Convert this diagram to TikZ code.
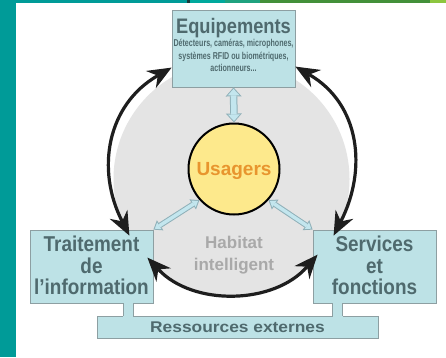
\documentclass[tikz,border=0pt]{standalone}
\usepackage{fontspec}
\setmainfont{Liberation Sans}
\newfontfamily\fTitle{Liberation Sans}[FakeStretch=0.87]
\newfontfamily\fSmall{Liberation Sans}[FakeStretch=0.71]
\newfontfamily\fBox{Liberation Sans}[FakeStretch=0.88]
\newfontfamily\fRes{Liberation Sans}[FakeStretch=1.12]
\usetikzlibrary{arrows.meta,calc}
\definecolor{tealbar}{HTML}{009B98}
\definecolor{tealbarB}{HTML}{00A99D}
\definecolor{tealgreen}{HTML}{1FA27F}
\definecolor{greenbar}{HTML}{43903A}
\definecolor{lightgreenbar}{HTML}{8DC63F}
\definecolor{darkline}{HTML}{1B3A3A}
\definecolor{boxfill}{HTML}{BDE2E6}
\definecolor{boxborder}{HTML}{8D9FA2}
\definecolor{boxtext}{HTML}{4F6A6E}
\definecolor{habfill}{HTML}{E4E4E4}
\definecolor{userfill}{HTML}{FDE98C}
\definecolor{userorange}{HTML}{E8952E}
\definecolor{habtext}{HTML}{A9A9A9}
\definecolor{bafill}{HTML}{C3E6EE}
\definecolor{baborder}{HTML}{8FB0B8}
\definecolor{arcblack}{HTML}{1E1E1E}
\begin{document}
\begin{tikzpicture}[x=1pt,y=1pt,
  box/.style={rectangle, fill=boxfill, draw=boxborder, line width=0.8pt, inner sep=0pt},
  boxlabel/.style={anchor=base, inner sep=0pt, text=boxtext, font=\fBox\bfseries\fontsize{21.5}{21.5}\selectfont},
  smalllabel/.style={anchor=base, inner sep=0pt, text=boxtext, font=\fSmall\bfseries\fontsize{10}{10}\selectfont},
  habitatlabel/.style={anchor=base, inner sep=0pt, text=habtext, font=\bfseries\fontsize{17}{17}\selectfont},
  blockouter/.style={line width=7.5pt, draw=baborder,
    {Triangle[width=16pt,length=9pt,line width=0pt]}-{Triangle[width=16pt,length=9pt,line width=0pt]}},
  blockinner/.style={line width=5.5pt, draw=bafill, shorten <=1.5pt, shorten >=1.5pt,
    {Triangle[width=11.8pt,length=6.5pt,line width=0pt]}-{Triangle[width=11.8pt,length=6.5pt,line width=0pt]}},
  diagouter/.style={line width=5.5pt, draw=baborder,
    {Triangle[width=12pt,length=8pt,line width=0pt]}-{Triangle[width=12pt,length=8pt,line width=0pt]}},
  diaginner/.style={line width=3.5pt, draw=bafill, shorten <=1.67pt, shorten >=1.67pt,
    {Triangle[width=8pt,length=5.33pt,line width=0pt]}-{Triangle[width=8pt,length=5.33pt,line width=0pt]}},
  bigarc/.style={line width=3.2pt, draw=arcblack,
    {Stealth[length=24pt,width=20pt,inset=8pt,line width=0pt]}-{Stealth[length=24pt,width=20pt,inset=8pt,line width=0pt]}}
]
\useasboundingbox (0,0) rectangle (446,-357);
\fill[white] (0,0) rectangle (446,-357);
% frame bars
\fill[tealbar] (0,0) rectangle (16,-357);
\fill[tealbar] (0,0) rectangle (187,-3);
\fill[darkline] (187,0) rectangle (190,-3);
\fill[tealbarB] (190,0) rectangle (225,-3);
\fill[tealgreen] (225,0) rectangle (260,-3);
\fill[greenbar] (260,0) rectangle (430,-3);
\fill[lightgreenbar] (430,0) rectangle (446,-3);

% background circle
\node[circle, fill=habfill, minimum size=236pt, inner sep=0pt] (hab) at (231.5,-179) {};
\node[habitatlabel] (habA) at (234,-248) {Habitat};
\node[habitatlabel] (habB) at (234,-270) {intelligent};

% boxes
\node[box, minimum width=123pt, minimum height=77pt] (equip) at (233.5,-48.5) {};
\node[box, minimum width=123pt, minimum height=73pt] (trait) at (91.5,-266.5) {};
\node[box, minimum width=123pt, minimum height=73pt] (serv) at (374.5,-266.5) {};
\node[box, minimum width=281pt, minimum height=22pt] (res) at (237.5,-327) {};

% tabs joining boxes to Ressources externes
\coordinate (ta) at ($(trait.south east)+(-30,0)$);
\coordinate (tb) at ($(trait.south east)+(-20,0)$);
\coordinate (sa) at ($(serv.south west)+(20,0)$);
\coordinate (sb) at ($(serv.south west)+(30,0)$);
\fill[boxfill] ($(ta)+(0,1)$) rectangle ($(tb |- res.north)+(0,-1)$);
\fill[boxfill] ($(sa)+(0,1)$) rectangle ($(sb |- res.north)+(0,-1)$);
\draw[boxborder, line width=0.8pt] (ta) -- (ta |- res.north) (tb) -- (tb |- res.north);
\draw[boxborder, line width=0.8pt] (sa) -- (sa |- res.north) (sb) -- (sb |- res.north);

% box texts
\node[inner sep=0pt, anchor=base, text=boxtext, font=\fTitle\bfseries\fontsize{21}{21}\selectfont] (eqtitle) at (233.5,-33.3) {Equipements};
\node[smalllabel] (eqA) at (233.5,-46.4) {Détecteurs, caméras, microphones,};
\node[smalllabel] (eqB) at (233.5,-59.1) {systèmes RFID ou biométriques,};
\node[smalllabel] (eqC) at (233.5,-71.8) {actionneurs...};

\node[boxlabel] (trA) at (91.5,-251.5) {Traitement};
\node[boxlabel] (trB) at (91.5,-273) {de};
\node[boxlabel] (trC) at (91.5,-294.5) {l’information};

\node[boxlabel] (seA) at (374.5,-251.5) {Services};
\node[boxlabel] (seB) at (374.5,-273) {et};
\node[boxlabel] (seC) at (374.5,-294.5) {fonctions};

\node[inner sep=0pt, anchor=base, text=boxtext, font=\fRes\bfseries\fontsize{15.5}{15.5}\selectfont] (restext) at (237.5,-332.5) {Ressources externes};

% users circle
\node[circle, fill=userfill, draw=black, line width=2pt, minimum size=91pt, inner sep=0pt] (us) at (234,-169) {};
\node[inner sep=0pt, anchor=base, text=userorange, font=\bfseries\fontsize{19}{19}\selectfont] (uslabel) at (234,-175.5) {Usagers};

% light blue block arrows
\draw[blockouter] (equip.south) -- (us.north);
\draw[blockinner] (equip.south) -- (us.north);
\draw[diagouter] (us.222) -- (trait.north east);
\draw[diaginner] (us.222) -- (trait.north east);
\draw[diagouter] (us.318) -- (serv.north west);
\draw[diaginner] (us.318) -- (serv.north west);

% big black arcs
\coordinate (lbot) at ($(trait.north east)+(-24,-6)$);
\coordinate (ltop) at ($(equip.north west)+(0,-58)$);
\coordinate (rtop) at ($(equip.north east)+(0,-57)$);
\coordinate (rbot) at ($(serv.north west)+(21,-6)$);
\coordinate (bl) at ($(trait.north east)+(-6,-28)$);
\coordinate (br) at ($(serv.north west)+(5,-25)$);
\draw[bigarc] (lbot) to[out=117,in=210,looseness=1.1] (ltop);
\draw[bigarc] (rtop) to[out=-30,in=63,looseness=1.1] (rbot);
\draw[bigarc] (bl) to[out=-47,in=229] (br);
\end{tikzpicture}
\end{document}
